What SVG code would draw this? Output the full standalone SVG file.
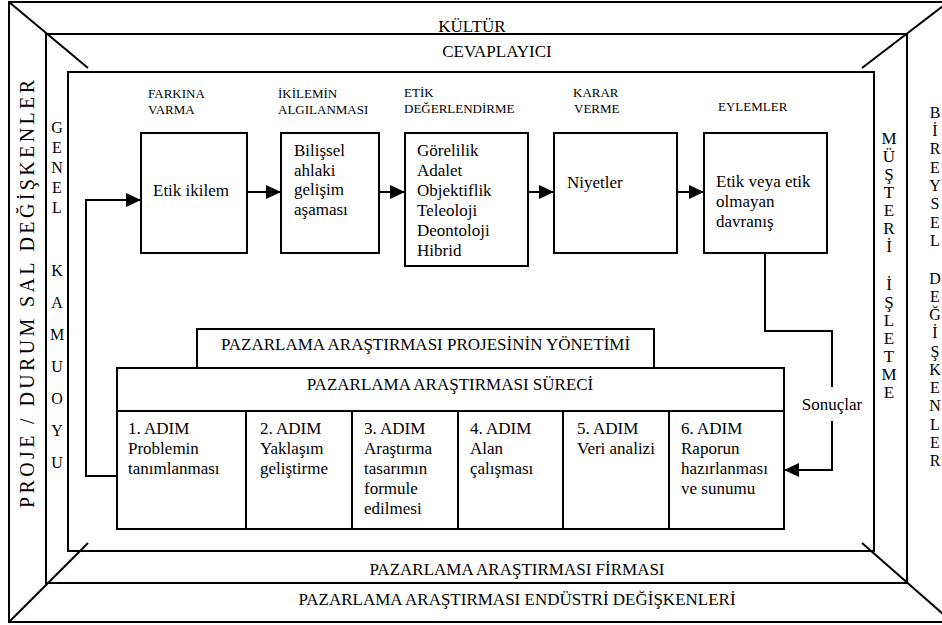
<svg xmlns="http://www.w3.org/2000/svg" width="942" height="625" viewBox="0 0 942 625" font-family="'Liberation Serif', 'DejaVu Serif', serif">
<defs>
<style>
text{font-family:"Liberation Serif","DejaVu Serif",serif;fill:#000}
.f{fill:none;stroke:#000;stroke-width:2}
.b{fill:#fff;stroke:#000;stroke-width:2}
.c{fill:none;stroke:#000;stroke-width:2}
.t17{font-size:17px}
.t16{font-size:16px}
.t13{font-size:13px}
.m{text-anchor:middle}
</style>
<marker id="ah" markerWidth="15" markerHeight="14" refX="15" refY="7" orient="auto" markerUnits="userSpaceOnUse">
<path d="M0,0 L15,7 L0,14 Z" fill="#000"/>
</marker>
</defs>
<rect width="942" height="625" fill="#fff"/>

<g id="frames">
<rect class="f" x="9" y="2" width="934" height="620"/>
<rect class="f" x="46" y="34" width="861" height="549"/>
<rect class="f" x="68" y="72" width="806" height="479"/>
<line class="f" x1="9" y1="2" x2="88" y2="68"/>
<line class="f" x1="943" y1="6" x2="862" y2="68"/>
<line class="f" x1="9" y1="622" x2="88" y2="543"/>
<line class="f" x1="862" y1="543" x2="943" y2="614"/>
</g>

<g id="frame-labels">
<text class="t17 m" x="472" y="32">KÜLTÜR</text>
<text class="t17 m" x="497" y="57">CEVAPLAYICI</text>
<text class="t17 m" x="517" y="575">PAZARLAMA ARAŞTIRMASI FİRMASI</text>
<text class="t17 m" x="517" y="605">PAZARLAMA ARAŞTIRMASI ENDÜSTRİ DEĞİŞKENLERİ</text>
<text class="m" font-size="20" transform="translate(34,294) rotate(-90)" textLength="428" lengthAdjust="spacing">PROJE / DURUM SAL DEĞİŞKENLER</text>
<g class="t16 m">
<text x="57" y="133">G</text><text x="57" y="153">E</text><text x="57" y="173">N</text><text x="57" y="193">E</text><text x="57" y="213">L</text>
<text x="57" y="276">K</text><text x="57" y="308">A</text><text x="57" y="340">M</text><text x="57" y="372">U</text><text x="57" y="404">O</text><text x="57" y="436">Y</text><text x="57" y="468">U</text>
</g>
<g class="t17 m">
<text x="889" y="144">M</text><text x="889" y="162">Ü</text><text x="889" y="180">Ş</text><text x="889" y="198">T</text><text x="889" y="216">E</text><text x="889" y="234">R</text><text x="889" y="252">İ</text>
<text x="889" y="290">İ</text><text x="889" y="308">Ş</text><text x="889" y="326">L</text><text x="889" y="344">E</text><text x="889" y="362">T</text><text x="889" y="380">M</text><text x="889" y="398">E</text>
</g>
<g class="t16 m">
<text x="935" y="118">B</text><text x="935" y="136">İ</text><text x="935" y="154">R</text><text x="935" y="173">E</text><text x="935" y="191">Y</text><text x="935" y="209">S</text><text x="935" y="228">E</text><text x="935" y="246">L</text>
<text x="935" y="284">D</text><text x="935" y="302">E</text><text x="935" y="320">Ğ</text><text x="935" y="338">İ</text><text x="935" y="357">Ş</text><text x="935" y="375">K</text><text x="935" y="393">E</text><text x="935" y="411">N</text><text x="935" y="430">L</text><text x="935" y="448">E</text><text x="935" y="466">R</text>
</g>
</g>

<g id="stage-labels" class="t13">
<text x="148" y="98">FARKINA</text><text x="148" y="114">VARMA</text>
<text x="278" y="98">İKİLEMİN</text><text x="278" y="114">ALGILANMASI</text>
<text x="404" y="97">ETİK</text><text x="404" y="113">DEĞERLENDİRME</text>
<text x="573" y="97">KARAR</text><text x="574" y="113">VERME</text>
<text x="718" y="111">EYLEMLER</text>
</g>

<g id="node-etik-ikilem">
<rect class="b" x="141" y="133" width="106" height="120"/>
<text class="t17" x="153" y="196">Etik ikilem</text>
</g>
<g id="node-bilissel">
<rect class="b" x="281" y="133" width="98" height="120"/>
<g class="t17"><text x="294" y="156">Bilişsel</text><text x="294" y="175.5">ahlaki</text><text x="294" y="195">gelişim</text><text x="294" y="214.5">aşaması</text></g>
</g>
<g id="node-etik-degerlendirme">
<rect class="b" x="405" y="133" width="123" height="133"/>
<g class="t17"><text x="417" y="156">Görelilik</text><text x="417" y="176">Adalet</text><text x="417" y="196">Objektiflik</text><text x="417" y="216">Teleoloji</text><text x="417" y="236">Deontoloji</text><text x="417" y="256">Hibrid</text></g>
</g>
<g id="node-niyetler">
<rect class="b" x="554" y="133" width="123" height="120"/>
<text class="t17" x="567" y="188">Niyetler</text>
</g>
<g id="node-davranis">
<rect class="b" x="704" y="133" width="123" height="120"/>
<g class="t17"><text x="716" y="187">Etik veya etik</text><text x="716" y="207">olmayan</text><text x="716" y="227">davranış</text></g>
</g>

<g id="node-proje-yonetimi">
<rect class="b" x="197" y="329" width="457" height="39"/>
<text class="t17 m" x="425.5" y="350">PAZARLAMA ARAŞTIRMASI PROJESİNİN YÖNETİMİ</text>
</g>
<g id="node-surec">
<rect class="b" x="117" y="368" width="667" height="43"/>
<text class="t17 m" x="450" y="390">PAZARLAMA ARAŞTIRMASI SÜRECİ</text>
</g>
<g id="node-adim1">
<rect class="b" x="117" y="411" width="129" height="118"/>
<g class="t17"><text x="128" y="434">1. ADIM</text><text x="128" y="454">Problemin</text><text x="128" y="474">tanımlanması</text></g>
</g>
<g id="node-adim2">
<rect class="b" x="246" y="411" width="106" height="118"/>
<g class="t17"><text x="260" y="434">2. ADIM</text><text x="260" y="454">Yaklaşım</text><text x="260" y="474">geliştirme</text></g>
</g>
<g id="node-adim3">
<rect class="b" x="352" y="411" width="106" height="118"/>
<g class="t17"><text x="364" y="434">3. ADIM</text><text x="364" y="454">Araştırma</text><text x="364" y="474">tasarımın</text><text x="364" y="494">formule</text><text x="364" y="514">edilmesi</text></g>
</g>
<g id="node-adim4">
<rect class="b" x="458" y="411" width="105" height="118"/>
<g class="t17"><text x="470" y="434">4. ADIM</text><text x="470" y="454">Alan</text><text x="470" y="474">çalışması</text></g>
</g>
<g id="node-adim5">
<rect class="b" x="563" y="411" width="106" height="118"/>
<g class="t17"><text x="577" y="434">5. ADIM</text><text x="577" y="454">Veri analizi</text></g>
</g>
<g id="node-adim6">
<rect class="b" x="669" y="411" width="115" height="118"/>
<g class="t17"><text x="681" y="434">6. ADIM</text><text x="681" y="454">Raporun</text><text x="681" y="474">hazırlanması</text><text x="681" y="494">ve sunumu</text></g>
</g>

<g id="connectors">
<path class="c" d="M247,192 H281" marker-end="url(#ah)"/>
<path class="c" d="M379,192 H405" marker-end="url(#ah)"/>
<path class="c" d="M528,192 H554" marker-end="url(#ah)"/>
<path class="c" d="M677,192 H704" marker-end="url(#ah)"/>
<path class="c" d="M117,476 H86 V200 H141" marker-end="url(#ah)"/>
<path class="c" d="M765,253 V331 H832 V387"/>
<path class="c" d="M832,421 V470 H784" marker-end="url(#ah)"/>
<text class="t17 m" x="832" y="410">Sonuçlar</text>
</g>
</svg>
